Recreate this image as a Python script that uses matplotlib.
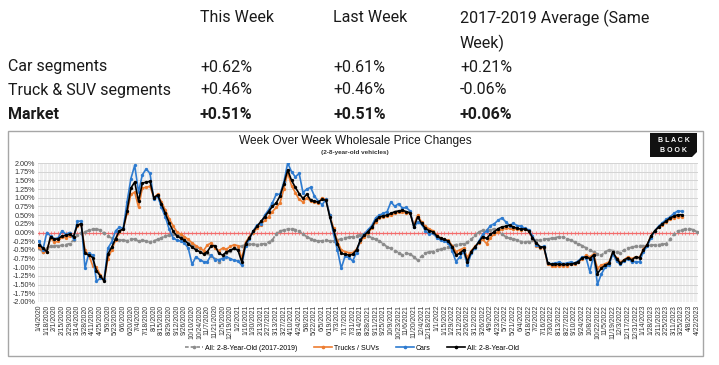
import matplotlib
matplotlib.use("Agg")
import matplotlib.pyplot as plt
import pandas as pd
from matplotlib.patches import Rectangle, Polygon
from matplotlib.lines import Line2D

# ---- table above the chart ----
TABLE_HEAD = ["This Week", "Last Week", "2017-2019 Average (Same\nWeek)"]
TABLE_ROWS = ["Car segments", "Truck & SUV segments", "Market"]
CAR_VALS = ["+0.62%", "+0.61%", "+0.21%"]
TRUCK_VALS = ["+0.46%", "+0.46%", "-0.06%"]
MARKET_VALS = ["+0.51%", "+0.51%", "+0.06%"]

# ---- weekly series, first week 1/4/2020 ----
START = "2020-01-04"
N_WEEKS = 173

MARKET = [
    -0.35, -0.45, -0.55, -0.12, -0.20, -0.18, -0.10, -0.08, -0.05, -0.12,
    0.22, 0.25, -0.60, -0.65, -0.72, -1.10, -1.25, -1.40, -0.62, -0.42,
    -0.18, 0.05, 0.10, 0.62, 1.28, 1.45, 0.90, 1.42, 1.45, 1.47,
    1.00, 1.08, 0.82, 0.55, 0.28, 0.05, -0.10, -0.16, -0.22, -0.32,
    -0.42, -0.50, -0.55, -0.62, -0.55, -0.38, -0.38, -0.60, -0.65, -0.56,
    -0.51, -0.46, -0.51, -0.85, -0.32, -0.15, 0.03, 0.18, 0.32, 0.45,
    0.60, 0.75, 0.85, 1.05, 1.40, 1.80, 1.50, 1.30, 1.12, 0.98,
    1.10, 0.93, 0.90, 0.88, 0.95, 0.93, 0.45, 0.07, -0.32, -0.60,
    -0.63, -0.65, -0.63, -0.50, -0.22, -0.08, 0.02, 0.15, 0.35, 0.45,
    0.48, 0.50, 0.55, 0.60, 0.62, 0.64, 0.60, 0.57, 0.16, 0.45,
    0.26, 0.12, 0.05, 0.02, -0.10, -0.17, -0.20, -0.25, -0.41, -0.65,
    -0.60, -0.50, -0.84, -0.55, -0.41, -0.27, -0.12, -0.17, -0.05, 0.02,
    0.11, 0.16, 0.18, 0.21, 0.16, 0.12, 0.10, 0.10, 0.05, -0.15,
    -0.30, -0.41, -0.42, -0.88, -0.92, -0.90, -0.92, -0.92, -0.92, -0.90,
    -0.89, -0.84, -0.73, -0.70, -0.75, -0.65, -1.18, -1.03, -0.94, -0.89,
    -0.56, -0.75, -0.89, -0.79, -0.73, -0.79, -0.70, -0.73, -0.50, -0.35,
    -0.10, 0.05, 0.16, 0.25, 0.33, 0.42, 0.47, 0.51, 0.51,
]

TRUCKS = [
    -0.42, -0.55, -0.55, -0.15, -0.28, -0.25, -0.12, -0.15, -0.10, -0.12,
    0.20, 0.22, -0.50, -0.65, -0.95, -1.00, -1.22, -1.38, -0.75, -0.50,
    -0.22, 0.02, 0.10, 0.55, 1.10, 1.16, 0.73, 1.28, 1.30, 1.33,
    1.00, 1.10, 0.88, 0.65, 0.40, 0.20, 0.02, -0.05, -0.12, -0.20,
    -0.30, -0.38, -0.45, -0.52, -0.36, -0.30, -0.45, -0.52, -0.45, -0.48,
    -0.40, -0.35, -0.38, -0.75, -0.28, -0.12, 0.00, 0.12, 0.22, 0.35,
    0.45, 0.60, 0.72, 0.85, 1.25, 1.72, 1.35, 1.15, 0.95, 0.88,
    1.00, 0.90, 0.88, 0.85, 1.00, 0.95, 0.50, 0.12, -0.25, -0.50,
    -0.55, -0.58, -0.58, -0.48, -0.28, -0.12, -0.02, 0.12, 0.30, 0.42,
    0.45, 0.47, 0.50, 0.55, 0.58, 0.60, 0.56, 0.55, 0.22, 0.50,
    0.30, 0.18, 0.10, 0.05, -0.08, -0.15, -0.20, -0.22, -0.38, -0.55,
    -0.50, -0.45, -0.72, -0.52, -0.40, -0.30, -0.20, -0.32, -0.15, -0.05,
    0.02, 0.10, 0.12, 0.12, 0.10, 0.10, 0.08, 0.10, 0.05, -0.12,
    -0.38, -0.44, -0.44, -0.92, -0.95, -0.95, -0.96, -0.95, -0.95, -0.92,
    -0.92, -0.86, -0.75, -0.66, -0.70, -0.62, -1.03, -0.94, -0.90, -0.85,
    -0.60, -0.72, -0.85, -0.78, -0.70, -0.75, -0.70, -0.72, -0.48, -0.35,
    -0.10, 0.05, 0.15, 0.22, 0.30, 0.38, 0.43, 0.46, 0.46,
]

CARS = [
    -0.25, -0.50, 0.00, -0.10, -0.18, -0.15, 0.05, -0.05, 0.00, -0.18,
    0.32, 0.33, -1.03, -0.60, -0.65, -1.40, -1.32, -1.35, -0.45, -0.27,
    0.05, 0.15, 0.12, 0.88, 1.55, 1.93, 1.16, 1.66, 1.83, 1.70,
    0.95, 1.05, 0.72, 0.45, 0.10, -0.15, -0.22, -0.25, -0.30, -0.45,
    -0.92, -0.70, -0.78, -0.84, -0.84, -0.65, -0.78, -0.78, -0.75, -0.70,
    -0.75, -0.80, -0.82, -0.94, -0.38, -0.20, 0.05, 0.22, 0.25, 0.50,
    0.65, 0.85, 1.10, 1.10, 1.45, 2.00, 1.75, 1.60, 1.70, 1.15,
    1.25, 1.30, 1.05, 0.90, 0.80, 0.95, 0.50, -0.05, -0.50, -1.03,
    -0.68, -0.72, -0.82, -0.58, -0.20, -0.05, 0.08, 0.20, 0.42, 0.50,
    0.55, 0.60, 0.88, 0.75, 0.83, 0.70, 0.72, 0.62, 0.15, 0.30,
    0.24, 0.05, -0.05, -0.02, -0.15, -0.22, -0.25, -0.30, -0.52, -0.84,
    -0.70, -0.55, -0.94, -0.60, -0.45, -0.25, -0.05, 0.05, 0.20, 0.25,
    0.35, 0.42, 0.31, 0.20, 0.26, 0.20, 0.18, 0.12, 0.08, -0.10,
    -0.35, -0.42, -0.40, -0.88, -0.90, -0.88, -0.85, -0.90, -0.88, -0.85,
    -0.88, -0.82, -0.70, -0.72, -1.13, -0.65, -1.49, -1.20, -1.00, -0.94,
    -0.62, -0.82, -0.92, -0.82, -0.75, -0.85, -0.84, -0.85, -0.55, -0.40,
    -0.15, 0.05, 0.18, 0.28, 0.38, 0.45, 0.55, 0.62, 0.61,
]

AVG_1719 = [
    -0.46, -0.57, -0.45, -0.40, -0.38, -0.38, -0.37, -0.35, -0.32, -0.22,
    -0.07, 0.00, 0.02, 0.06, 0.09, 0.11, 0.06, -0.02, -0.10, -0.17,
    -0.20, -0.22, -0.22, -0.24, -0.20, -0.19, -0.25, -0.22, -0.25, -0.27,
    -0.24, -0.20, -0.15, -0.10, -0.08, -0.03, -0.05, -0.12, -0.22, -0.30,
    -0.36, -0.42, -0.46, -0.55, -0.60, -0.68, -0.76, -0.84, -0.72, -0.60,
    -0.52, -0.46, -0.42, -0.38, -0.36, -0.34, -0.34, -0.35, -0.34, -0.32,
    -0.28, -0.22, -0.03, 0.04, 0.07, 0.10, 0.11, 0.08, 0.04, -0.05,
    -0.12, -0.18, -0.22, -0.25, -0.24, -0.22, -0.25, -0.24, -0.22, -0.18,
    -0.15, -0.14, -0.12, -0.10, -0.06, -0.04, -0.10, -0.15, -0.20, -0.25,
    -0.32, -0.42, -0.46, -0.52, -0.58, -0.65, -0.60, -0.62, -0.70, -0.80,
    -0.68, -0.60, -0.55, -0.55, -0.50, -0.48, -0.46, -0.42, -0.38, -0.35,
    -0.34, -0.32, -0.28, -0.20, -0.08, 0.02, 0.06, 0.07, 0.08, 0.10,
    0.04, -0.05, -0.12, -0.17, -0.18, -0.22, -0.26, -0.27, -0.26, -0.22,
    -0.22, -0.23, -0.20, -0.18, -0.17, -0.15, -0.12, -0.13, -0.18, -0.22,
    -0.27, -0.32, -0.38, -0.44, -0.50, -0.57, -0.62, -0.66, -0.56, -0.50,
    -0.52, -0.56, -0.58, -0.50, -0.46, -0.42, -0.40, -0.38, -0.38, -0.37,
    -0.36, -0.36, -0.35, -0.34, -0.32, -0.20, -0.05, 0.04, 0.07, 0.10,
    0.11, 0.08, 0.02,
]

Y_TICKS = [-2.0, -1.75, -1.5, -1.25, -1.0, -0.75, -0.5, -0.25, 0.0,
           0.25, 0.5, 0.75, 1.0, 1.25, 1.5, 1.75, 2.0]

W, H = 719, 365
fig = plt.figure(figsize=(W / 100, H / 100), dpi=100)


def fx(px):
    return px / W


def fy(py):
    return 1 - py / H


# table: Roboto like the page text
TFONT = dict(family="Roboto", fontsize=11.5, color="#1a1a1a", va="center")
col_x = [200, 333, 460]
fig.text(fx(col_x[0]), fy(18), TABLE_HEAD[0], **TFONT)
fig.text(fx(col_x[1]), fy(18), TABLE_HEAD[1], **TFONT)
head3 = TABLE_HEAD[2].split("\n")
fig.text(fx(col_x[2]), fy(18), head3[0], **TFONT)
fig.text(fx(col_x[2]), fy(43), head3[1], **TFONT)
for row, vals, y in zip(TABLE_ROWS, [CAR_VALS, TRUCK_VALS, MARKET_VALS], [67, 90, 114]):
    bold = "bold" if row == "Market" else "normal"
    fig.text(fx(8), fy(y), row, fontweight=bold, **TFONT)
    for cx, v in zip(col_x, vals):
        fig.text(fx(cx), fy(y), v, fontweight=bold, **TFONT)

# chart frame
fig.patches.append(Rectangle((fx(8), fy(356)), fx(703 - 8), (356 - 131) / H,
                             transform=fig.transFigure, fill=False,
                             edgecolor="#a6a6a6", lw=1.0))

CF = "Liberation Sans"
fig.text(fx(355), fy(141), "Week Over Week Wholesale Price Changes",
         family=CF, fontsize=8.6, ha="center", va="center", color="#1a1a1a")
fig.text(fx(355), fy(152), "(2-8-year-old vehicles)", family=CF, fontsize=4.6,
         fontweight="bold", ha="center", va="center", color="#333333")

# Black Book badge
logo = [(650, 133), (697, 133), (697, 152), (692, 157), (650, 157)]
fig.patches.append(Polygon([(fx(a), fy(b)) for a, b in logo], closed=True,
                           transform=fig.transFigure, facecolor="#111111",
                           edgecolor="none"))
fig.text(fx(674), fy(140), "B L A C K", family=CF, fontsize=5.0, color="white",
         fontweight="bold", ha="center", va="center")
fig.text(fx(674), fy(150), "B O O K", family=CF, fontsize=5.0, color="white",
         fontweight="bold", ha="center", va="center")

ax = fig.add_axes([fx(38), fy(302), fx(698 - 38), (302 - 163) / H])
dates = pd.date_range(START, periods=N_WEEKS, freq="7D")

ax.set_facecolor("#efefef")
for d in dates:
    ax.axvline(d, color="white", lw=0.6, zorder=0)
for t in Y_TICKS:
    ax.axhline(t, color="#d4d4d4", lw=0.7, zorder=0.5)
ax.axhline(0, color="#f26b6b", lw=0.9, zorder=1)
ax.plot(dates, [0] * len(dates), ls="none", marker="|", ms=2.2,
        color="#f26b6b", mew=0.5, zorder=1)

GRAY, ORANGE, BLUE, BLACK = "#8c8c8c", "#ed7d31", "#2e7bd0", "#000000"
ax.plot(dates[:len(AVG_1719)], AVG_1719, color=GRAY, lw=1.3, ls=(0, (2.2, 1.2)),
        marker="o", ms=1.6, zorder=2)
ax.plot(dates[:len(TRUCKS)], TRUCKS, color=ORANGE, lw=1.2, marker="o", ms=1.4, zorder=3)
ax.plot(dates[:len(CARS)], CARS, color=BLUE, lw=1.2, marker="o", ms=1.4, zorder=4)
ax.plot(dates[:len(MARKET)], MARKET, color=BLACK, lw=1.2, marker="o", ms=1.4, zorder=5)

ax.set_ylim(-2.0, 2.0)
ax.set_xlim(dates[0] - pd.Timedelta(days=2), dates[-1] + pd.Timedelta(days=2))
ax.set_yticks(Y_TICKS)
ax.set_yticklabels(["%.2f%%" % t for t in Y_TICKS], family=CF, fontsize=5.2,
                   color="#333333")
tick_dates = dates[::2]
ax.set_xticks(tick_dates)
ax.set_xticklabels(["%d/%d/%d" % (d.month, d.day, d.year) for d in tick_dates],
                   rotation=90, family=CF, fontsize=4.9, color="#333333")
ax.tick_params(length=0, pad=2)
for s in ax.spines.values():
    s.set_visible(False)

handles = [
    Line2D([], [], color=GRAY, lw=1.2, ls=(0, (2.2, 1.2)), marker="o", ms=1.6),
    Line2D([], [], color=ORANGE, lw=1.2, marker="o", ms=1.6),
    Line2D([], [], color=BLUE, lw=1.2, marker="o", ms=1.6),
    Line2D([], [], color=BLACK, lw=1.2, marker="o", ms=1.6),
]
labels = ["All: 2-8-Year-Old (2017-2019)", "Trucks / SUVs", "Cars", "All: 2-8-Year-Old"]
fig.legend(handles, labels, loc="center", bbox_to_anchor=(fx(352), fy(348)),
           ncol=4, frameon=False, prop={"family": CF, "size": 5.0},
           handlelength=2.6, columnspacing=2.4, handletextpad=0.3)

fig.savefig("out.png", dpi=100, facecolor="white")
